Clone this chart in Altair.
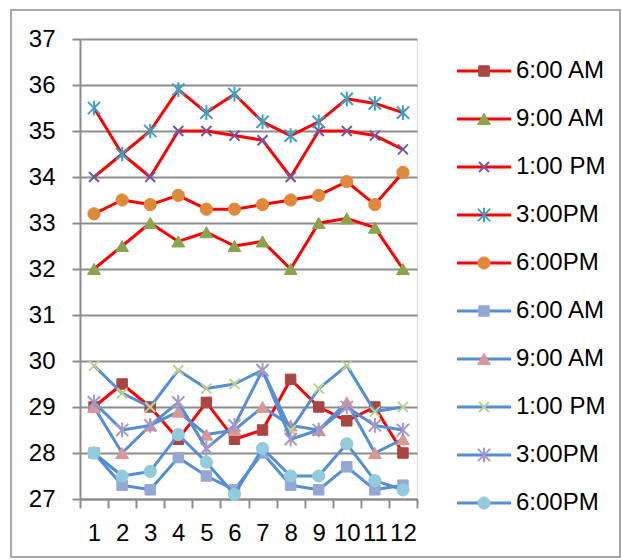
import altair as alt
import pandas as pd

hours = list(range(1, 13))
time_labels = ["6:00 AM", "9:00 AM", "1:00 PM", "3:00PM", "6:00PM"]

# upper group (red lines)
red_0600 = [29.0, 29.5, 29.0, 28.3, 29.1, 28.3, 28.5, 29.6, 29.0, 28.7, 29.0, 28.0]
red_0900 = [32.0, 32.5, 33.0, 32.6, 32.8, 32.5, 32.6, 32.0, 33.0, 33.1, 32.9, 32.0]
red_1300 = [34.0, 34.5, 34.0, 35.0, 35.0, 34.9, 34.8, 34.0, 35.0, 35.0, 34.9, 34.6]
red_1500 = [35.5, 34.5, 35.0, 35.9, 35.4, 35.8, 35.2, 34.9, 35.2, 35.7, 35.6, 35.4]
red_1800 = [33.2, 33.5, 33.4, 33.6, 33.3, 33.3, 33.4, 33.5, 33.6, 33.9, 33.4, 34.1]

# lower group (blue lines)
blue_0600 = [28.0, 27.3, 27.2, 27.9, 27.5, 27.2, 28.0, 27.3, 27.2, 27.7, 27.2, 27.3]
blue_0900 = [29.0, 28.0, 28.6, 28.9, 28.4, 28.5, 29.0, 28.6, 28.5, 29.1, 28.0, 28.3]
blue_1300 = [29.9, 29.3, 29.0, 29.8, 29.4, 29.5, 29.8, 28.5, 29.4, 29.9, 28.9, 29.0]
blue_1500 = [29.1, 28.5, 28.6, 29.1, 28.1, 28.6, 29.8, 28.3, 28.5, 29.0, 28.6, 28.5]
blue_1800 = [28.0, 27.5, 27.6, 28.4, 27.8, 27.1, 28.1, 27.5, 27.5, 28.2, 27.4, 27.2]

y_ticks = list(range(27, 38))

red_series = [red_0600, red_0900, red_1300, red_1500, red_1800]
blue_series = [blue_0600, blue_0900, blue_1300, blue_1500, blue_1800]

RED_LINE = "#FF0000"
BLUE_LINE = "#558ED5"
red_markers = ["#A84643", "#89A54E", "#71589F", "#3FA0C4", "#E0893B"]
blue_markers = ["#95A8D4", "#D99795", "#BCD28D", "#A897C4", "#92CBDC"]

X_PATH = "M-1,-1L1,1M-1,1L1,-1"
STAR_PATH = "M-1,-1L1,1M-1,1L1,-1M0,-1.2L0,1.2"
shapes = ["square", "triangle-up", X_PATH, STAR_PATH, "circle"]
filled = [True, True, False, False, True]
sizes = [110, 165, 100, 150, 150]

FONT = "Liberation Sans"
FONT_SIZE = 24
GRID = "#8C8C8C"

x_enc = alt.X(
    "hour:O",
    scale=alt.Scale(type="band", paddingInner=0, paddingOuter=0, domain=hours),
    axis=alt.Axis(
        title=None, labelAngle=0, grid=False, tickBand="extent",
        tickSize=9, tickColor=GRID, tickWidth=2, domainColor=GRID, domainWidth=2,
        labelFontSize=FONT_SIZE, labelColor="#000000", labelPadding=13, labelFont=FONT,
    ),
)
y_enc = alt.Y(
    "temp:Q",
    scale=alt.Scale(domain=[27, 37], nice=False, zero=False),
    axis=alt.Axis(
        title=None, values=y_ticks, grid=True, gridColor=GRID, gridWidth=2,
        tickSize=8, tickColor=GRID, tickWidth=2, domainColor=GRID, domainWidth=2,
        labelFontSize=FONT_SIZE, labelColor="#000000", labelPadding=17, labelFont=FONT,
    ),
)


def marker(base, i, color):
    if filled[i]:
        return base.mark_point(shape=shapes[i], size=sizes[i], filled=True,
                               fill=color, stroke=color, strokeWidth=1, opacity=1)
    return base.mark_point(shape=shapes[i], size=sizes[i], filled=False,
                           stroke=color, strokeWidth=2, opacity=1)


# frame around the whole figure
frame = alt.Chart(pd.DataFrame({"k": [0]})).mark_rect(
    fillOpacity=0, stroke=GRID, strokeWidth=1.5
).encode(x=alt.value(-69), x2=alt.value(540), y=alt.value(-29), y2=alt.value(518))

main_layers = [frame]
for group, line_color, marker_colors in [
    (red_series, RED_LINE, red_markers),
    (blue_series, BLUE_LINE, blue_markers),
]:
    for i, values in enumerate(group):
        df = pd.DataFrame({"hour": hours, "temp": values})
        base = alt.Chart(df).encode(x=x_enc, y=y_enc)
        main_layers.append(base.mark_line(color=line_color, strokeWidth=3, strokeJoin="round"))
        main_layers.append(marker(base, i, marker_colors[i]))

main = alt.layer(*main_layers)

# legend: a short line with the marker, then the label
legend_rows = []
for g, (line_color, marker_colors) in enumerate([(RED_LINE, red_markers), (BLUE_LINE, blue_markers)]):
    for i, label in enumerate(time_labels):
        legend_rows.append({"row": g * 5 + i, "label": label, "slot": i,
                            "line": line_color, "marker": marker_colors[i]})
legend_df = pd.DataFrame(legend_rows)
ly = alt.Y("row:Q", scale=alt.Scale(domain=[0, 9], range=[32, 464]), axis=None)

legend_layers = []
for r in legend_rows:
    sub = alt.Chart(pd.DataFrame([r])).encode(y=ly)
    legend_layers.append(sub.mark_rule(color=r["line"], strokeWidth=3).encode(
        x=alt.value(377), x2=alt.value(431)))
    legend_layers.append(marker(sub, r["slot"], r["marker"]).encode(x=alt.value(404)))
legend_layers.append(
    alt.Chart(legend_df).mark_text(align="left", baseline="middle", fontSize=FONT_SIZE,
                                   font=FONT, color="#000000")
    .encode(x=alt.value(436), y=ly, text="label:N")
)
legend = alt.layer(*legend_layers)

chart = (
    alt.layer(main, legend)
    .resolve_scale(y="independent")
    .properties(
        width=337, height=460,
        autosize=alt.AutoSizeParams(type="none"),
        padding={"left": 80, "top": 39, "right": 205, "bottom": 61},
    )
    .configure_view(strokeWidth=0)
    .configure(font=FONT, background="#FFFFFF")
)

chart.save("out.html", embed_options={"renderer": "svg", "actions": False})
